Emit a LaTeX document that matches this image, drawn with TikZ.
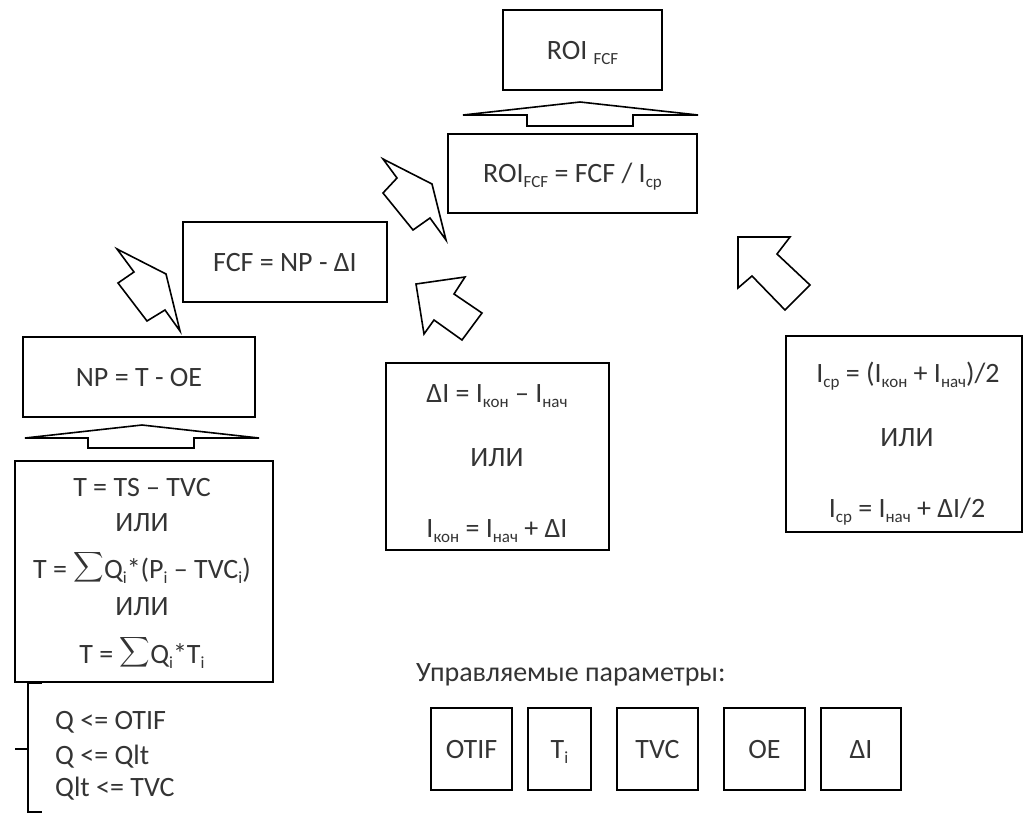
\documentclass[tikz,border=0pt]{standalone}
\usepackage{amsmath}
\usepackage{fontspec}
\setmainfont{Carlito}
\definecolor{txt}{RGB}{52,52,52}
\newcommand{\lo}[1]{\raisebox{-5pt}{\fontsize{17}{17}\selectfont #1}}
\newcommand{\fs}{\fontsize{28}{33}\selectfont}
\newcommand{\bigsum}{\raisebox{5pt}{\scalebox{0.85}{$\displaystyle\sum$}}}
\begin{document}
\begin{tikzpicture}[x=1pt,y=-1pt,
  bx/.style={draw=black,line width=1.6pt,inner sep=0pt,outer sep=0pt,text=txt,font=\fs,text height=18pt,text depth=0pt},
  lbl/.style={text=txt,font=\fs,inner sep=0pt,text height=18pt,text depth=0pt},
  blk/.style={draw=black,line width=1.6pt,fill=white}]
\useasboundingbox (0,0) rectangle (1025,814);

% main boxes
\node[bx,minimum width=159pt,minimum height=80pt] (roitop) at (582.5,50) {ROI \lo{FCF}};
\node[bx,minimum width=249pt,minimum height=79pt] (roi) at (572.5,173.5) {ROI\lo{FCF} = FCF / I\lo{cp}};
\node[bx,minimum width=204pt,minimum height=80pt] (fcf) at (285,262) {FCF = NP - ΔI};
\node[bx,minimum width=232pt,minimum height=80pt] (np) at (139,377) {NP = T - OE};
\node[bx,minimum width=258pt,minimum height=221pt] (tbox) at (144,571.5) {};
\node[bx,minimum width=223pt,minimum height=187pt] (dibox) at (497.5,456.5) {};
\node[bx,minimum width=236pt,minimum height=196pt] (icpbox) at (904,434) {};

% T box text
\node[lbl] (t1) at (142,487) {T = TS – TVC};
\node[lbl] (t2) at (142,522) {ИЛИ};
\node[lbl] (t3) at (142,569) {T = \bigsum Q\lo{i}*(P\lo{i} – TVC\lo{i})};
\node[lbl] (t4) at (142,606) {ИЛИ};
\node[lbl] (t5) at (142,654) {T = \bigsum Q\lo{i}*T\lo{i}};

% delta I box text
\node[lbl] (d1) at (497,393) {ΔI = I\lo{кон} – I\lo{нач}};
\node[lbl] (d2) at (497,457) {ИЛИ};
\node[lbl] (d3) at (497,528) {I\lo{кон} = I\lo{нач} + ΔI};

% I_cp box text
\node[lbl] (c1) at (908,373) {I\lo{ср} = (I\lo{кон} + I\lo{нач})/2};
\node[lbl] (c2) at (907,437) {ИЛИ};
\node[lbl] (c3) at (907,508) {I\lo{ср} = I\lo{нач} + ΔI/2};

% bracket with constraints
\draw[line width=1.8pt] (42,683) -- (28,683) -- (28,812) -- (42,812);
\draw[line width=1.8pt] (28,749) -- (15,749);
\node[lbl,anchor=west] (q1) at (55,720) {Q <= OTIF};
\node[lbl,anchor=west] (q2) at (55,755) {Q <= Qlt};
\node[lbl,anchor=west] (q3) at (55,787) {Qlt <= TVC};

% controlled parameters
\node[lbl,anchor=west] (ctl) at (416,672) {Управляемые параметры:};
\node[bx,minimum width=81pt,minimum height=82pt] (p1) at (471.5,749) {OTIF};
\node[bx,minimum width=63pt,minimum height=82pt] (p2) at (559.5,749) {T\lo{i}};
\node[bx,minimum width=81pt,minimum height=82pt] (p3) at (657.5,749) {TVC};
\node[bx,minimum width=81pt,minimum height=82pt] (p4) at (764.5,749) {OE};
\node[bx,minimum width=80pt,minimum height=82pt] (p5) at (861,749) {ΔI};

% wide flat up arrows
\draw[blk] (463,115) -- (580,102) -- (698,115) -- (633,115) -- (633,126) -- (527,126) -- (527,115) -- cycle;
\draw[blk] (25,438) -- (142,425) -- (259,438) -- (194,438) -- (194,448) -- (88,448) -- (88,438) -- cycle;

% diagonal block arrows
\draw[blk] (117,249) -- (166,274) -- (180,331) -- (165,310) -- (147,321) -- (118,283) -- (134,272) -- cycle;
\draw[blk] (383,159) -- (432,184) -- (446,240) -- (430,218) -- (413,230) -- (383,193) -- (397,178) -- cycle;
\draw[blk] (416,284) -- (465,277) -- (454,294) -- (482,313) -- (462,340) -- (434,320) -- (424,334) -- cycle;
\draw[blk] (738,237) -- (790,237) -- (777,254) -- (810,285) -- (785,310) -- (752,276) -- (738,288) -- cycle;
\end{tikzpicture}
\end{document}
